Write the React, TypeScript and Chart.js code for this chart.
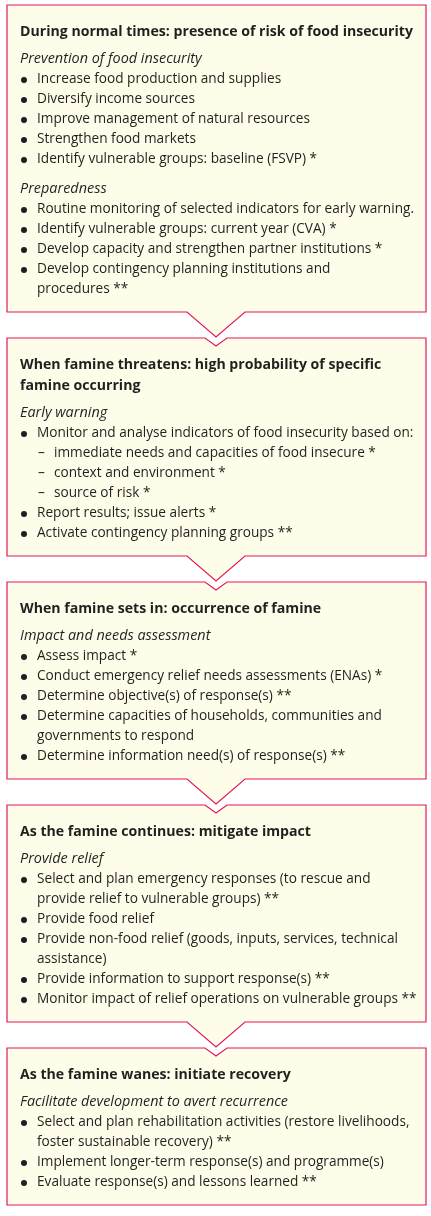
import { useEffect, useRef } from "react"
import { Chart, registerables } from "chart.js"

Chart.register(...registerables)

// Each line: "#" title, "~" italic subheading, "*" bullet, ">" continuation, "-" dash item
const normalTimes = [
  "#During normal times: presence of risk of food insecurity",
  "~Prevention of food insecurity",
  "*Increase food production and supplies",
  "*Diversify income sources",
  "*Improve management of natural resources",
  "*Strengthen food markets",
  "*Identify vulnerable groups: baseline (FSVP) *",
  "~Preparedness",
  "*Routine monitoring of selected indicators for early warning.",
  "*Identify vulnerable groups: current year (CVA) *",
  "*Develop capacity and strengthen partner institutions *",
  "*Develop contingency planning institutions and",
  ">procedures **",
]
const famineThreatens = [
  "#When famine threatens: high probability of specific",
  "#famine occurring",
  "~Early warning",
  "*Monitor and analyse indicators of food insecurity based on:",
  "-immediate needs and capacities of food insecure *",
  "-context and environment *",
  "-source of risk *",
  "*Report results; issue alerts *",
  "*Activate contingency planning groups **",
]
const famineSetsIn = [
  "#When famine sets in: occurrence of famine",
  "~Impact and needs assessment",
  "*Assess impact *",
  "*Conduct emergency relief needs assessments (ENAs) *",
  "*Determine objective(s) of response(s) **",
  "*Determine capacities of households, communities and",
  ">governments to respond",
  "*Determine information need(s) of response(s) **",
]
const famineContinues = [
  "#As the famine continues: mitigate impact",
  "~Provide relief",
  "*Select and plan emergency responses (to rescue and",
  ">provide relief to vulnerable groups) **",
  "*Provide food relief",
  "*Provide non-food relief (goods, inputs, services, technical",
  ">assistance)",
  "*Provide information to support response(s) **",
  "*Monitor impact of relief operations on vulnerable groups **",
]
const famineWanes = [
  "#As the famine wanes: initiate recovery",
  "~Facilitate development to avert recurrence",
  "*Select and plan rehabilitation activities (restore livelihoods,",
  ">foster sustainable recovery) **",
  "*Implement longer-term response(s) and programme(s)",
  "*Evaluate response(s) and lessons learned **",
]
const stages = [normalTimes, famineThreatens, famineSetsIn, famineContinues, famineWanes]

const BORDER = "#e2185b"
const FILL = "#fefde9"
const INK = "#231f20"
const BODY = '14.5px "Open Sans"'
const BOLD = 'bold 15px "Open Sans"'
const ITAL = 'italic 14.5px "Open Sans"'

const flowPlugin = {
  id: "flow",
  afterDraw(chart: Chart) {
    const { ctx } = chart
    const sx = chart.scales.x
    const sy = chart.scales.y
    const X = (v: number) => sx.getPixelForValue(v)
    const Y = (v: number) => sy.getPixelForValue(v)

    // horizontal squeeze to mimic the narrow original typeface
    ctx.font = BODY
    const kBody = 377 / ctx.measureText("Routine monitoring of selected indicators for early warning.").width
    ctx.font = BOLD
    const kBold = 393 / ctx.measureText("During normal times: presence of risk of food insecurity").width
    ctx.font = ITAL
    const kItal = 268 / ctx.measureText("Facilitate development to avert recurrence").width

    const L = 7, R = 426
    let top = 5
    stages.forEach((lines, i) => {
      const ys: number[] = []
      let y = top + 27
      let prev = ""
      lines.forEach((ln) => {
        const t = ln[0]
        if (ys.length) {
          if (t === "#") y += 21
          else if (t === "~") y += prev === "#" ? 27 : 30
          else y += 20
        }
        ys.push(y)
        prev = t
      })
      const bottom = y + 23
      const last = i === stages.length - 1

      // box outline with notch on top and chevron below
      ctx.save()
      ctx.beginPath()
      ctx.moveTo(X(L), Y(top))
      if (i > 0) {
        ctx.lineTo(X(205), Y(top))
        ctx.lineTo(X(216), Y(top + 8))
        ctx.lineTo(X(227), Y(top))
      }
      ctx.lineTo(X(R), Y(top))
      ctx.lineTo(X(R), Y(bottom))
      if (!last) {
        ctx.lineTo(X(245), Y(bottom))
        ctx.lineTo(X(216), Y(bottom + 25))
        ctx.lineTo(X(187), Y(bottom))
      }
      ctx.lineTo(X(L), Y(bottom))
      ctx.closePath()
      ctx.fillStyle = FILL
      ctx.fill()
      ctx.strokeStyle = BORDER
      ctx.lineWidth = 1.2
      ctx.stroke()
      ctx.restore()

      ctx.fillStyle = INK
      ctx.textBaseline = "middle"
      const put = (s: string, x: number, yy: number, font: string, k: number) => {
        ctx.save()
        ctx.font = font
        ctx.translate(X(x), Y(yy))
        ctx.scale(k, 1)
        ctx.fillText(s, 0, 0)
        ctx.restore()
      }
      lines.forEach((ln, j) => {
        const t = ln[0]
        const s = ln.slice(1)
        const yy = ys[j]
        if (t === "#") put(s, 20, yy, BOLD, kBold)
        else if (t === "~") put(s, 20, yy, ITAL, kItal)
        else if (t === "*") {
          ctx.beginPath()
          ctx.arc(X(24), Y(yy + 1), 3, 0, Math.PI * 2)
          ctx.fill()
          put(s, 37, yy, BODY, kBody)
        } else if (t === ">") put(s, 37, yy, BODY, kBody)
        else if (t === "-") {
          put("–", 38, yy, BODY, kBody)
          put(s, 54, yy, BODY, kBody)
        }
      })
      top = bottom + 26
    })
  },
}

export default function App() {
  const chartRef = useRef<HTMLCanvasElement>(null)
  const chartInstance = useRef<Chart | null>(null)

  useEffect(() => {
    document.body.style.margin = "0"
    if (chartRef.current) {
      if (chartInstance.current) chartInstance.current.destroy()
      chartInstance.current = new Chart(chartRef.current, {
        type: "scatter",
        data: { datasets: [] },
        options: {
          responsive: false,
          animation: false,
          layout: { padding: 0 },
          plugins: { legend: { display: false }, tooltip: { enabled: false } },
          scales: {
            x: { type: "linear", min: 0, max: 431, display: false },
            y: { type: "linear", min: 0, max: 1216, reverse: true, display: false },
          },
        },
        plugins: [flowPlugin],
      })
    }
    return () => {
      if (chartInstance.current) chartInstance.current.destroy()
    }
  }, [])

  return <canvas ref={chartRef} width={431} height={1216} style={{ display: "block" }} />
}
